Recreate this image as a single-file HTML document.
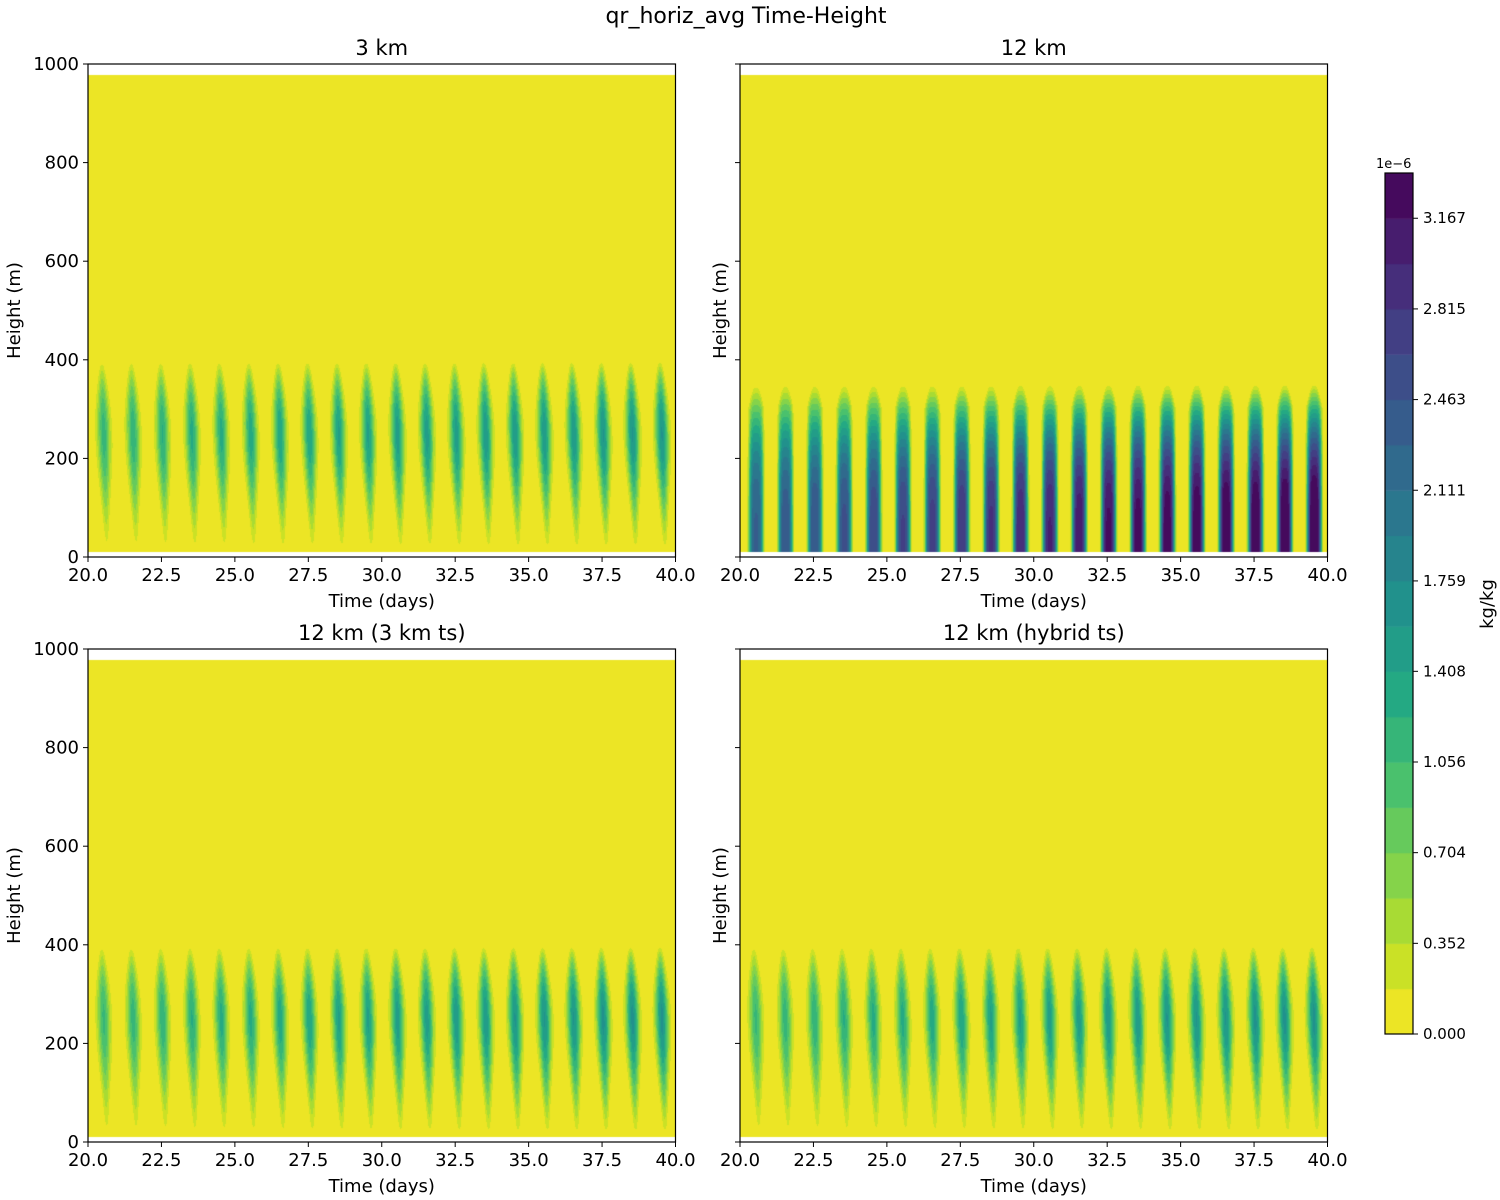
<!DOCTYPE html>
<html><head><meta charset="utf-8">
<style>
html,body{margin:0;padding:0;background:#fff;}
#wrap{position:relative;width:1500px;height:1200px;font-family:"DejaVu Sans","Liberation Sans",sans-serif;}
canvas{position:absolute;}
svg{position:absolute;left:0;top:0;font-family:"DejaVu Sans","Liberation Sans",sans-serif;}
</style></head>
<body>
<div id="wrap">
<canvas id="c0" width="587" height="493" style="left:88px;top:64px"></canvas>
<canvas id="c1" width="588" height="493" style="left:740px;top:64px"></canvas>
<canvas id="c2" width="587" height="493" style="left:88px;top:649px"></canvas>
<canvas id="c3" width="588" height="493" style="left:740px;top:649px"></canvas>
<canvas id="cb" width="28" height="861" style="left:1385px;top:173px"></canvas>
<svg id="ov" width="1500" height="1200"></svg>
</div>
<script>
// ---- data ----
const xTicks = [20.0,22.5,25.0,27.5,30.0,32.5,35.0,37.5,40.0];
const yTicks = [0,200,400,600,800,1000];
const cbTicks = [0.000,0.352,0.704,1.056,1.408,1.759,2.111,2.463,2.815,3.167];
const panelTitles = ["3 km","12 km","12 km (3 km ts)","12 km (hybrid ts)"];
const barCenters = [20.55,21.55,22.55,23.55,24.55,25.55,26.55,27.55,28.55,29.55,30.55,31.55,32.55,33.55,34.55,35.55,36.55,37.55,38.55,39.55];
const amp3km    = [1.15,1.2,1.25,1.3,1.3,1.35,1.4,1.4,1.45,1.45,1.5,1.5,1.5,1.55,1.55,1.55,1.55,1.6,1.6,1.6];
const amp12km   = [2.3,2.4,2.45,2.5,2.6,2.65,2.7,2.8,2.85,2.95,3.0,3.1,3.2,3.25,3.3,3.35,3.4,3.4,3.45,3.5];
const amp12km3  = [1.1,1.15,1.2,1.25,1.3,1.3,1.35,1.4,1.45,1.45,1.5,1.5,1.55,1.55,1.6,1.6,1.6,1.65,1.65,1.65];
const ampHybrid = [1.1,1.15,1.2,1.25,1.3,1.3,1.35,1.4,1.45,1.45,1.5,1.5,1.55,1.55,1.6,1.6,1.6,1.65,1.65,1.65];
const barTops   = [395,355,395,395];
const levelStep = 0.17593; // 1e-6 kg/kg
const nLevels = 19;
const zBottom = 10, zTop = 978;

// ---- colormap (viridis reversed) ----
const vir=[[68,1,84],[72,36,117],[65,68,135],[53,95,141],[42,120,142],[33,145,140],[34,168,132],[68,191,112],[122,209,81],[189,223,38],[253,231,37]];
function viridis(t){t=Math.max(0,Math.min(1,t));const s=t*10,i=Math.min(9,Math.floor(s)),f=s-i;
 return vir[i].map((v,k)=>Math.round(v+(vir[i+1][k]-v)*f));}
function bandColor(k){return viridis(1-(k+0.5)/nLevels);}

const X0s=[88,740,88,740], Y0s=[64,64,649,649], W=587.5, H=493;
function xs(t,p){return X0s[p]+(t-20)/20*W;}
function ys(z,p){return Y0s[p]+H-(z/1000)*H;}

function field(p,t,z){
 const amps=[amp3km,amp12km,amp12km3,ampHybrid][p];
 const top=barTops[p];
 if(z>=top||z<=zBottom) return 0;
 const u=(z-zBottom)/(top-zBottom);
 let g,sig,pw,shift;
 if(p===1){
  g = u<0.12?1:Math.cos(Math.PI/2*Math.pow((u-0.12)/0.88,1.3));
  sig = 0.2*(u>0.85?Math.sqrt(Math.max(0.05,(1-u)/0.15)):1);
  pw=4; shift=0;
 }
 else {
  const s=Math.sin(Math.PI*Math.pow(u,1.45));
  g=Math.pow(s,0.45)*(0.55+0.45*s);
  if(u<0.05) g*=0.6+8*u;
  sig=0.06+0.09*s; pw=2; shift=0.1-0.18*u;
 }
 let v=0;
 for(let i=0;i<barCenters.length;i++){
  const d=(t-barCenters[i]-shift)/sig;
  if(Math.abs(d)>5) continue;
  v+=amps[i]*g*Math.exp(-0.5*Math.pow(Math.abs(d),pw));
 }
 return v;
}

function drawPanel(p){
 const cv=document.getElementById('c'+p), ctx=cv.getContext('2d');
 const w=cv.width,h=cv.height, img=ctx.createImageData(w,h);
 for(let py=0;py<h;py++){
  const z=(H-(py+0.5))/H*1000;
  for(let px=0;px<w;px++){
   const o=(py*w+px)*4;
   if(z>zTop||z<zBottom){img.data[o]=255;img.data[o+1]=255;img.data[o+2]=255;img.data[o+3]=255;continue;}
   const t=20+(px+0.5)/W*20;
   const v=field(p,t,z);
   const k=Math.max(0,Math.min(nLevels-1,Math.floor(v/levelStep)));
   const c=bandColor(k);
   img.data[o]=c[0];img.data[o+1]=c[1];img.data[o+2]=c[2];img.data[o+3]=255;
  }
 }
 ctx.putImageData(img,0,0);
}
[0,1,2,3].forEach(drawPanel);

// colorbar
(function(){
 const ctx=document.getElementById('cb').getContext('2d');
 const bh=861/nLevels;
 for(let k=0;k<nLevels;k++){const c=bandColor(k);ctx.fillStyle=`rgb(${c})`;ctx.fillRect(0,861-(k+1)*bh,28,bh+0.5);}
})();

// overlay
const svg=document.getElementById('ov'), NS="http://www.w3.org/2000/svg";
function mk(tag,attrs,txt){const e=document.createElementNS(NS,tag);for(const a in attrs)e.setAttribute(a,attrs[a]);if(txt!==undefined)e.textContent=txt;svg.appendChild(e);return e;}

let t0=mk('text',{x:746,y:23,'font-size':22,'text-anchor':'middle'},'qr_horiz_avg Time-Height');



for(let p=0;p<4;p++){
 const x0=X0s[p],y0=Y0s[p];
 const fr=mk('rect',{x:x0,y:y0,width:W,height:H,fill:'none',stroke:'#000','stroke-width':1.2});
 
 
 const tt=mk('text',{x:x0+W/2,y:y0-9,'font-size':21,'text-anchor':'middle'},panelTitles[p]);
 
 
 xTicks.forEach(v=>{const x=xs(v,p);
  mk('line',{x1:x,x2:x,y1:y0+H,y2:y0+H+5,stroke:'#000','stroke-width':1});
  const l=mk('text',{x:x,y:y0+H+24,'font-size':18,'text-anchor':'middle'},v.toFixed(1));
  
  
 });
 yTicks.forEach(v=>{const y=ys(v,p);
  mk('line',{x1:x0-5,x2:x0,y1:y,y2:y,stroke:'#000','stroke-width':1});
  if(p%2===0){const l=mk('text',{x:x0-9,y:y+6,'font-size':18,'text-anchor':'end'},String(v));
   
   }
 });
 const xl=mk('text',{x:x0+W/2,y:y0+H+50,'font-size':18,'text-anchor':'middle'},'Time (days)');
 
 
 const lx=p%2===0?20:726, ly=y0+H/2;
 const yl=mk('text',{x:lx,y:ly,'font-size':18,'text-anchor':'middle',transform:`rotate(-90 ${lx} ${ly})`},'Height (m)');
 
 
}
// colorbar axes
const cbf=mk('rect',{x:1385,y:173,width:28,height:861,fill:'none',stroke:'#000','stroke-width':1.2});


cbTicks.forEach(v=>{const y=1034-v/(levelStep*nLevels)*861;
 mk('line',{x1:1413,x2:1418,y1:y,y2:y,stroke:'#000','stroke-width':1});
 const l=mk('text',{x:1423,y:y+5,'font-size':15},v.toFixed(3));
 
 
});
const ex=mk('text',{x:1376,y:168,'font-size':13},'1e\u22126');


const cl=mk('text',{x:1493,y:604,'font-size':18,'text-anchor':'middle',transform:'rotate(-90 1493 604)'},'kg/kg');


</script>
</body></html>
